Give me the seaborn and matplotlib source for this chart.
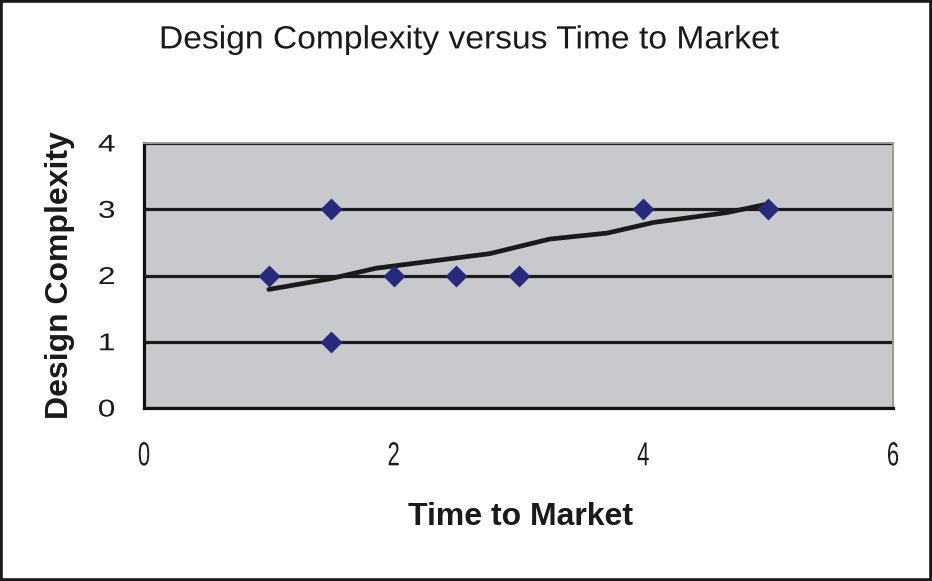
import matplotlib
matplotlib.use("Agg")
import matplotlib.pyplot as plt
import pandas as pd
import seaborn as sns
from matplotlib import patheffects
from matplotlib.transforms import Affine2D
from matplotlib.patches import Rectangle

# Observations
time_to_market = [1, 1.5, 1.5, 2, 2.5, 3, 4, 5]
design_complexity = [2, 3, 1, 2, 2, 2, 3, 3]

# Smoothed trend through the observations
trend_x = [1.0, 1.49, 1.86, 2.77, 3.25, 3.71, 4.08, 4.67, 5.0]
trend_y = [1.79, 1.95, 2.11, 2.33, 2.55, 2.64, 2.80, 2.95, 3.08]

x_ticks = [0, 2, 4, 6]
y_ticks = [0, 1, 2, 3, 4]

title_text = "Design Complexity versus Time to Market"
x_label = "Time to Market"
y_label = "Design Complexity"


class Stretch(patheffects.AbstractPathEffect):
    """Scale a text path about its own centre."""

    def __init__(self, sx=1.0, sy=1.0):
        super().__init__()
        self.sx, self.sy = sx, sy

    def draw_path(self, renderer, gc, tpath, affine, rgbFace=None):
        ext = tpath.get_extents(affine)
        cx = ext.x0 + ext.width / 2
        cy = ext.y0 + ext.height / 2
        t = affine + Affine2D().translate(-cx, -cy).scale(self.sx, self.sy).translate(cx, cy)
        renderer.draw_path(gc, tpath, t, rgbFace)


sns.set_style("white")
plt.rcParams["font.family"] = ["Liberation Sans", "DejaVu Sans"]

obs = pd.DataFrame({"time": time_to_market, "complexity": design_complexity})
trend = pd.DataFrame({"time": trend_x, "complexity": trend_y})

fig = plt.figure(figsize=(9.32, 5.81), dpi=100)
fig.patch.set_facecolor("white")
ax = fig.add_axes([144 / 932, 1 - 408 / 581, 749 / 932, 265 / 581])
ax.set_facecolor("#c8c9cc")

ax.set_xlim(0, 6)
ax.set_ylim(0, 4)

# horizontal gridlines
ax.set_yticks(y_ticks)
ax.set_xticks(x_ticks)
ax.yaxis.grid(True, color="#1c1c1c", linewidth=2.3)
ax.xaxis.grid(False)
ax.set_axisbelow(True)

sns.lineplot(data=trend, x="time", y="complexity", sort=False, estimator=None,
             color="#1a1a1a", linewidth=3.4, ax=ax, zorder=3)
sns.scatterplot(data=obs, x="time", y="complexity", marker="D", s=125,
                color="#272a7a", edgecolor="#272a7a", linewidth=0, ax=ax, zorder=4)

for side in ("left", "bottom"):
    ax.spines[side].set_color("#111111")
    ax.spines[side].set_linewidth(2.3)
for side in ("top", "right"):
    ax.spines[side].set_color("#9a9a9a")
    ax.spines[side].set_linewidth(1.4)

ax.tick_params(axis="both", direction="out", length=8, width=2.2, color="#111111")
ax.tick_params(axis="y", pad=14, labelsize=17.5, labelcolor="#1a1a1a")
ax.tick_params(axis="x", pad=16, labelsize=24, labelcolor="#1a1a1a")
ax.set_yticklabels([str(v) for v in y_ticks])
ax.set_xticklabels([str(v) for v in x_ticks])
for lbl in ax.get_xticklabels():
    lbl.set_path_effects([Stretch(sx=0.66)])
for lbl in ax.get_yticklabels():
    lbl.set_path_effects([Stretch(sx=1.3)])

ax.set_xlabel(x_label, fontsize=23, fontweight="bold", color="#1a1a1a")
ax.set_ylabel(y_label, fontsize=23, fontweight="bold", color="#1a1a1a")
ax.xaxis.label.set_va("center")
ax.yaxis.label.set_va("center")
ax.xaxis.set_label_coords((520 - 144) / 749, (408 - 517) / 265)
ax.yaxis.set_label_coords((60 - 144) / 749, (408 - 275) / 265)

fig.text(468 / 932, 1 - 40 / 581, title_text, fontsize=22, color="#1a1a1a",
         ha="center", va="center", path_effects=[Stretch(sx=1.1, sy=1.05)])

# outer frame
fig.patches.append(Rectangle((0.0015, 0.0025), 0.997, 0.995, transform=fig.transFigure,
                             fill=False, edgecolor="#1a1a1a", linewidth=2.6))

fig.savefig("out.png", dpi=100, facecolor="white")
